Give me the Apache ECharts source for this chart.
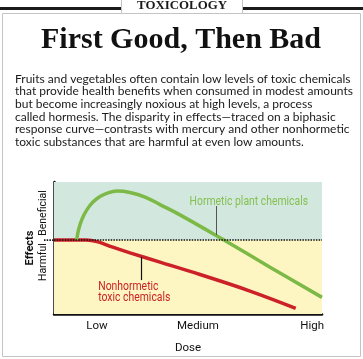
<!DOCTYPE html>
<html><head><meta charset="utf-8">
<script src="https://cdn.jsdelivr.net/npm/echarts@6/dist/echarts.min.js"></script>
<style>html,body{margin:0;padding:0;background:#fff}#c{width:363px;height:359px}</style>
</head><body><div id="c"></div>
<script>
// ---- data ----
const kicker = 'TOXICOLOGY';
const title = 'First Good, Then Bad';
const paragraph = [
  'Fruits and vegetables often contain low levels of toxic chemicals',
  'that provide health benefits when consumed in modest amounts',
  'but become increasingly noxious at high levels, a process',
  'called hormesis. The disparity in effects\u2014traced on a biphasic',
  'response curve\u2014contrasts with mercury and other nonhormetic',
  'toxic substances that are harmful at even low amounts.'
];
const doseTicks = [1.6, 5.37, 9.63];
const doseLabels = ['Low', 'Medium', 'High'];
const effectTicks = [2.05, -1.67];
const effectLabels = ['Beneficial', 'Harmful'];
const hormetic = [[0.847,0],[0.914,0.76],[1.045,1.59],[1.231,2.31],[1.455,2.88],[1.716,3.3],[2.015,3.58],[2.351,3.71],[2.836,3.6],[3.396,3.26],[3.955,2.69],[4.701,1.91],[6.343,0],[8.06,-2.05],[10.0,-4.34]];
const nonhormetic = [[0,0],[1.194,0],[1.642,-0.14],[2.164,-0.52],[2.836,-0.97],[3.955,-1.67],[5.448,-2.61],[7.313,-3.86],[9.019,-5.17]];
const seriesNames = ['Hormetic plant chemicals', 'Nonhormetic\ntoxic chemicals'];

const GREEN = '#7cb946', RED = '#cc2128';
const chart = echarts.init(document.getElementById('c'), null, {renderer:'canvas'});
const labelFont = 'Roboto, sans-serif';
chart.setOption({
  animation: false,
  grid: {left: 54, right: 41, top: 182, bottom: 45, containLabel: false},
  xAxis: {
    type: 'value', min: 0, max: 10,
    axisLine: {show: true, onZero: false, lineStyle: {color: '#111', width: 2.5}},
    axisTick: {show: false}, splitLine: {show: false},
    axisLabel: {customValues: doseTicks, formatter: v => doseLabels[doseTicks.indexOf(v)],
      margin: 6, color: '#111', fontSize: 11.5, fontFamily: labelFont},
    name: 'Dose', nameLocation: 'middle', nameGap: 28, nameMoveOverlap: false,
    nameTextStyle: {color: '#111', fontSize: 11.5, fontFamily: labelFont}
  },
  yAxis: {
    type: 'value', min: -5.6, max: 4.4,
    axisLine: {show: true, onZero: false, lineStyle: {color: '#111', width: 2.5}},
    axisTick: {show: false}, splitLine: {show: false},
    axisLabel: {customValues: effectTicks, formatter: v => effectLabels[effectTicks.indexOf(v)],
      rotate: 90, margin: 5, color: '#111', fontSize: 10.5, fontFamily: labelFont},
    name: 'Effects', nameLocation: 'middle', nameGap: 18, nameRotate: 90, nameMoveOverlap: false,
    nameTextStyle: {color: '#111', fontSize: 11, fontWeight: 'bold', fontFamily: labelFont}
  },
  series: [
    {type: 'line', name: seriesNames[1], data: nonhormetic, smooth: 0.4, showSymbol: false,
      lineStyle: {color: RED, width: 3.5}, z: 3,
      markArea: {silent: true, data: [
        [{yAxis: 4.4, itemStyle: {color: '#d2e8de'}}, {yAxis: 0}],
        [{yAxis: 0, itemStyle: {color: '#fdf6c2'}}, {yAxis: -5.6}]
      ]}
    },
    {type: 'line', name: seriesNames[0], data: hormetic, smooth: 0.4, showSymbol: false,
      lineStyle: {color: GREEN, width: 3.5}, z: 4},
    {type: 'line', data: [], z: 6,
      markLine: {silent: true, symbol: 'none', label: {show: false},
        data: [
          [{coord: [0, 0], lineStyle: {color: '#111', type: [1.5, 1.2], width: 1.6}}, {coord: [10, 0]}],
          [{coord: [6.04, 2.58], lineStyle: {color: '#555', type: 'solid', width: 1}}, {coord: [6.04, 0.38]}],
          [{coord: [3.24, -1.27], lineStyle: {color: '#111', type: 'solid', width: 1.2}}, {coord: [3.24, -3.03]}]
        ]}
    }
  ]
});

const p = (x, y) => chart.convertToPixel({gridIndex: 0}, [x, y]);
const gLab = p(7.27, 2.92), rLab = p(1.65, -3.95), z0 = p(0, 0);
chart.setOption({graphic: [
  {type: 'rect', shape: {x: 2.5, y: 13.5, width: 358, height: 343}, style: {fill: null, stroke: '#c4c4c4', lineWidth: 1}, z: 1},
  {type: 'rect', shape: {x: 0, y: 7, width: 363, height: 3}, style: {fill: '#1a1a1a'}, z: 2},
  {type: 'rect', shape: {x: 121.5, y: -1, width: 121, height: 14.5}, style: {fill: '#fff', stroke: '#c4c4c4', lineWidth: 1}, z: 3},
  {type: 'text', x: 182, y: 6.5, z: 4, scaleX: 1.12, style: {text: kicker, align: 'center', verticalAlign: 'middle',
    font: 'bold 11.5px "Liberation Serif", serif', fill: '#1a1a1a'}},
  {type: 'text', x: 181, y: 40, z: 4, style: {text: title, align: 'center', verticalAlign: 'middle',
    font: 'bold 30px "Liberation Serif", serif', fill: '#111'}},
  {type: 'text', x: 15, y: 72.7, z: 4, style: {text: paragraph.join('\n'), align: 'left', verticalAlign: 'top',
    font: '12px Lato, sans-serif', lineHeight: 12.6, fill: '#1a1a1a'}},
  {type: 'line', shape: {x1: 44, y1: z0[1], x2: z0[0], y2: z0[1]}, style: {stroke: '#111', lineWidth: 1.6, lineDash: [1.5, 1.2]}, z: 10},
  {type: 'text', x: gLab[0], y: gLab[1], scaleX: 0.8, z: 10, style: {text: seriesNames[0], align: 'center', verticalAlign: 'middle',
    font: '13px ' + labelFont, fill: '#86bf52'}},
  {type: 'text', x: rLab[0], y: rLab[1], scaleX: 0.8, z: 10, style: {text: seriesNames[1], align: 'left', verticalAlign: 'middle',
    font: '13px ' + labelFont, lineHeight: 11.5, fill: RED}}
]});
</script></body></html>
